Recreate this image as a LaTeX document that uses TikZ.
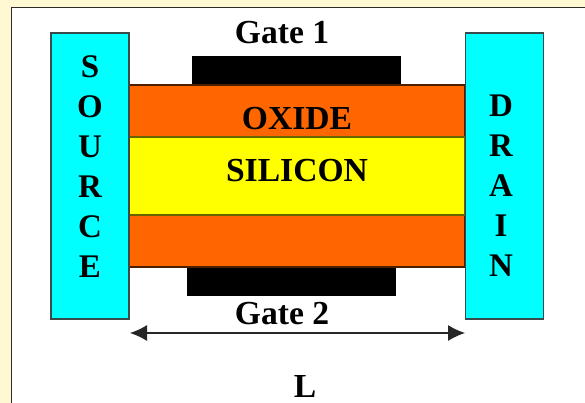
\documentclass[tikz,border=0pt]{standalone}
\usepackage{fontspec}
\setmainfont{Liberation Serif}
\usetikzlibrary{arrows.meta,positioning}
\definecolor{creambg}{HTML}{FFF8D2}
\definecolor{framec}{HTML}{2B2B2B}
\definecolor{oxidec}{HTML}{FF6600}
\definecolor{siliconc}{HTML}{FFFF00}
\definecolor{contactc}{HTML}{00FFFF}
\definecolor{edgec}{HTML}{3A4A4A}
\tikzset{
  x=1pt,y=-1pt,
  layer/.style={draw=#1,line width=1.2pt,minimum width=336pt,inner sep=0pt,outer sep=0pt,anchor=north west},
  contact/.style={draw=edgec,line width=1.3pt,fill=contactc,minimum width=78pt,minimum height=286pt,inner sep=0pt,outer sep=0pt,anchor=north west},
  gatebar/.style={fill=black,minimum width=209pt,minimum height=29pt,inner sep=0pt,outer sep=0pt,anchor=north west},
  lbl/.style={font=\fontsize{33.6}{34}\selectfont\bfseries,text=black,inner sep=0pt},
  stack/.style={font=\fontsize{33}{40}\selectfont\bfseries,text=black,inner sep=0pt,align=center},
  dim/.style={draw=black!85,line width=1.2pt,{Latex[length=17pt,width=16pt]}-{Latex[length=17pt,width=16pt]}}
}
\begin{document}
\begin{tikzpicture}
\useasboundingbox (0,0) rectangle (585,403);
\fill[creambg] (0,0) rectangle (585,403);
\path[fill=white,draw=framec,line width=1.6pt] (11.5,7.5) rectangle (590,410);
\node[gatebar] (gone) at (192,56) {};
\node[gatebar,minimum height=28pt] (gtwo) at (186.5,268) {};
\node[layer=black!70!oxidec,fill=oxidec,minimum height=52pt] (oxtop) at (129,85) {};
\node[layer=black!70!oxidec,fill=oxidec,minimum height=52pt] (oxbot) at (129,215) {};
\node[layer=black!60!siliconc,fill=siliconc,minimum height=78pt] (si) at (129,137) {};
\node[contact] (src) at (51,33) {};
\node[contact] (drn) at (465.5,33) {};
\node[lbl] (tg1) at (282,32.5) {Gate 1};
\node[lbl] (tg2) at (282,313.5) {Gate 2};
\node[lbl] (tox) at (297,119) {OXIDE};
\node[lbl] (tsi) at (297,171) {SILICON};
\node[lbl] (tl) at (305,386) {L};
\node[stack] (ts) at (90,166.5) {S\\O\\U\\R\\C\\E};
\node[stack] (td) at (501,186) {D\\R\\A\\I\\N};
\coordinate (al) at (130,333);
\coordinate (ar) at (465,333);
\draw[dim] (al) -- (ar);
\end{tikzpicture}
\end{document}
